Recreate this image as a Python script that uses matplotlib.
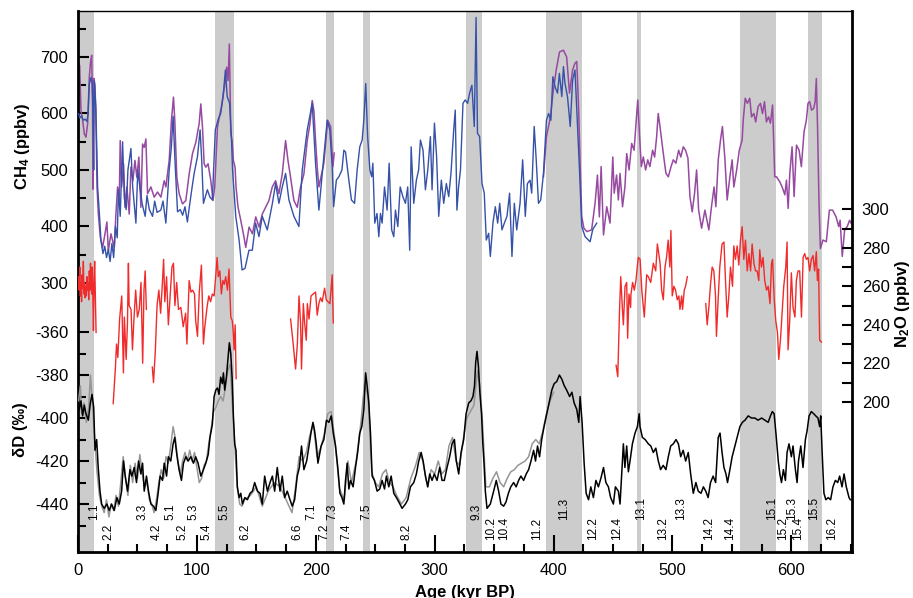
import matplotlib
matplotlib.use('Agg')
import matplotlib.pyplot as plt
from matplotlib.ticker import FixedLocator

plt.rcParams['font.family'] = ['Liberation Sans', 'DejaVu Sans']
plt.rcParams['mathtext.default'] = 'regular'
plt.rcParams['axes.unicode_minus'] = False

# interglacial bands (kyr BP)
bands = [(0, 13.1), (115, 131.5), (208.2, 214.9), (239.9, 246), (326.6, 339.8),
         (393.8, 423.8), (469.9, 473.3), (556.7, 586.9), (614, 626.1)]

# MIS event labels (age, text)
mis_upper = [(13.2, '1.1'), (54.4, '3.3'), (78, '5.1'), (97.1, '5.3'), (123.4, '5.5'),
             (196.2, '7.1'), (213.9, '7.3'), (242.6, '7.5'), (335, '9.3'), (408.9, '11.3'),
             (473.3, '13.1'), (506.9, '13.3'), (583.8, '15.1'), (600.6, '15.3'), (618.8, '15.5')]
mis_lower = [(25.4, '2.2'), (66.3, '4.2'), (87.9, '5.2'), (108.3, '5.4'), (141, '6.2'),
             (184.5, '6.6'), (207.4, '7.2'), (225.8, '7.4'), (276.3, '8.2'), (347.3, '10.2'),
             (358.6, '10.4'), (386.5, '11.2'), (433.5, '12.2'), (453, '12.4'), (491.8, '13.2'),
             (530.9, '14.2'), (548.3, '14.4'), (593, '15.2'), (605.6, '15.4'), (634, '16.2')]

# CH4 new record (purple), two parts
ch4_new_age_a = [0.3, 1.4, 2.5, 3.9, 5.3, 6.7, 8.1, 9.5, 10.5, 11.5, 12.2, 12.6, 13.4, 14.3, 15, 16,
                 17.1, 18.8, 20.7, 22.7, 24.3, 25.5, 27.7, 30.5, 31.9, 33.3, 34.7, 35.5, 36.7,
                 38.3, 39.5, 41.1, 43.1, 44.5, 46.2, 47.9, 49.5, 51.2, 52.9, 54.3, 55.7, 57.1,
                 58.5, 61.3, 64.1, 66.9, 69.7, 72.5, 73.9, 76.7, 78.6, 80.3, 81.4, 83.1, 85.1,
                 87.9, 90.7, 93.5, 96.3, 99.1, 101.9, 103.3, 104.7, 106.1, 107.5, 109.4, 111.7,
                 113.6, 115, 117.3, 118.9, 120.6, 122.3, 124, 125.1, 126.2, 127.3, 128.5, 129.6,
                 130.7, 132.1, 132.9, 134.6, 136.9, 139.1, 141.1, 143.9, 146.7, 149.5, 152.3,
                 155, 157.8, 160.6, 163.4, 166.2, 169, 171.8, 174.6, 176.6, 178.8, 181.6, 184.4,
                 187.2, 190, 192.8, 195.1, 197, 198.4, 199.8, 201.2, 202.6, 206.8, 210, 212.4,
                 214.4, 215.5]
ch4_new_a = [690, 685, 605, 588, 564, 558, 582, 664, 690, 703, 620, 466, 662, 650, 600, 470,
             422, 381, 363, 387, 408, 357, 387, 363, 422, 470, 446, 552, 470,
             511, 434, 470, 422, 505, 481, 517, 487, 523, 434, 546, 540, 555,
             458, 470, 452, 461, 452, 481, 470, 517, 588, 629, 588, 487, 458,
             440, 446, 493, 529, 549, 582, 617, 576, 511, 505, 511, 481,
             446, 470, 576, 594, 611, 635, 658, 682, 658, 723, 564, 552,
             517, 505, 470, 434, 411, 387, 363, 399, 387, 417, 399,
             422, 434, 446, 470, 481, 458, 493, 552, 517, 487, 446, 434,
             470, 493, 552, 582, 623, 605, 552, 505, 470, 512, 588, 577,
             506, 530]
ch4_new_age_b = [391.5, 394, 397.4, 399.5, 402.2, 405, 408.3, 411, 413.4, 416, 418, 419.5, 421,
                 422.4, 423.7, 425.5, 428, 432, 434.9, 436.9, 438.5, 440, 442, 444.7, 447.5,
                 449.8, 451, 453, 454.5, 455.9, 458, 460, 461.5, 463.5, 465.7, 467.7, 469.3,
                 470.8, 472.2, 473.8, 475.5, 477.4, 479.2, 481, 483.3, 485, 486.7, 488, 489.5,
                 492.3, 494.5, 496.5, 498.8, 500.7, 502.9, 505.2, 507, 509.1, 511, 513, 514.7,
                 516.6, 518.6, 520.3, 522, 524.5, 527.3, 530.6, 532.8, 535, 536.5, 538.5, 540.4,
                 542, 544, 546, 548.3, 550.2, 551.6, 554, 556.2, 558.6, 559.5, 561.2, 563, 565,
                 566.5, 568.4, 570, 572, 574, 575.7, 577.4, 579, 580.8, 582.4, 584.2, 586,
                 587.5, 590.3, 592.6, 594.5, 595.9, 597.3, 598.7, 600.6, 602.3, 604.3, 606.5,
                 608.4, 610.7, 612.6, 614, 615.4, 617, 618.8, 620, 621, 622, 623.2, 624.4,
                 626.6, 629.4, 632, 634.7, 637.6, 639.8, 641, 642.8, 644.8, 647, 649, 650.5]
ch4_new_b = [488, 559, 594, 636, 677, 709, 712, 700, 636, 677, 689, 692, 612,
             506, 417, 397, 391, 394, 441, 491, 417, 506, 385, 435, 406,
             523, 459, 491, 447, 494, 435, 470, 529, 500, 547, 535, 582,
             624, 565, 506, 523, 500, 518, 506, 535, 523, 559, 600, 577,
             529, 494, 488, 506, 518, 512, 535, 523, 541, 535, 521, 453,
             426, 459, 500, 429, 397, 429, 394, 435, 470, 435, 518, 553,
             577, 523, 447, 488, 518, 470, 500, 535, 553, 588, 627, 618, 627,
             594, 600, 585, 612, 618, 600, 621, 585, 594, 583, 615, 488,
             488, 479, 468, 456, 482, 432, 494, 541, 453, 544, 535,
             506, 568, 588, 618, 621, 606, 609, 621, 662, 577, 447, 361,
             376, 373, 429, 429, 417, 400, 411, 347, 394, 400, 411, 405]

# CH4 older record (blue)
ch4_old_age = [0.5, 1.5, 3, 4.5, 6, 7.5, 8.5, 9.5, 11, 12, 12.6, 13.2, 13.7, 15, 16.5, 18,
               19.3, 21, 22.5, 24, 25.5, 27, 28.5, 30, 31.5, 33, 34, 35.5, 37.5, 39, 40.5, 42,
               44.5, 46, 48.7, 50.3, 52, 54, 56.5, 58, 60, 62.7, 64.5, 66.5, 69.7, 71.5, 73.9,
               76.7, 78.5, 80, 81.5, 83.7, 86, 88, 90, 92, 94, 96, 97.7, 100.5, 102.7, 104,
               105.5, 108.8, 111, 113, 115.5, 118, 120, 122, 124, 125.5, 127.5, 129, 130,
               132.7, 135.5, 138, 140.5, 143.8, 146.6, 149.4, 152.2, 155, 159.2, 163.5, 166.2,
               169, 171.8, 174.6, 177.4, 181.6, 185.8, 188.6, 192.8, 197, 199.8, 202.6, 206.8,
               209.6, 211.8, 213.8, 215, 217.3, 219.4, 222, 223.6, 225, 227.8, 230, 232.6,
               234.8, 237, 239, 240.4, 242, 243.6, 245.5, 247, 248, 249.6, 251.5, 253, 254.4,
               255.8, 257.8, 260, 261.7, 263.8, 265.6, 267, 269, 271, 273.2, 275.4, 277.3,
               279, 280.2, 282.4, 284.6, 286.5, 288, 290.2, 292.2, 294.2, 296.4, 297.8, 299.8,
               301.6, 303.4, 305.6, 307.6, 309.8, 311.8, 313.7, 316, 317.3, 318.7, 320.1,
               321.7, 323.8, 325.7, 327.7, 329.4, 331.3, 333.3, 334.8, 336, 337.8, 339.8,
               341.7, 343.4, 345.4, 346.8, 349, 351, 353, 354.7, 356.6, 358.6, 360.8, 363, 365,
               367, 369, 371.8, 374, 376.2, 378, 380.2, 381.6, 383.7, 385.4, 387.3, 389.2,
               391.5, 394, 395.8, 397.7, 399.4, 401.3, 403.3, 404.9, 406.9, 408.3, 409.6,
               411.7, 414, 416, 418, 420, 421.8, 423.7, 426.5, 430.7, 433, 436.3]
ch4_old = [600, 592, 596, 588, 590, 586, 600, 652, 664, 652, 600, 500, 658, 611, 470, 422,
           375, 352, 365, 345, 360, 338, 370, 345, 400, 380, 465, 418, 550, 450, 430, 500,
           538, 470, 406, 500, 470, 440, 418, 455, 430, 418, 445, 425, 429, 445, 406,
           500, 540, 595, 520, 426, 430, 420, 435, 408, 440, 470, 494, 524, 571, 520,
           441, 465, 452, 447, 571, 590, 600, 630, 677, 630, 618, 560, 500,
           418, 376, 323, 326, 358, 358, 406, 382, 418, 394, 441, 476,
           441, 470, 494, 447, 418, 400, 500, 571, 618, 512, 429, 524,
           588, 571, 506, 435, 482, 488, 500, 535, 532, 482, 447, 441,
           500, 541, 553, 588, 653, 559, 500, 488, 512, 406, 423, 382, 423,
           406, 470, 429, 512, 394, 382, 429, 400, 470, 453, 441, 470,
           358, 541, 441, 482, 500, 553, 535, 465, 500, 559, 465, 583,
           524, 418, 482, 441, 476, 453, 494, 571, 606, 429, 470,
           500, 618, 624, 618, 636, 650, 577, 770, 565, 559, 476,
           459, 376, 388, 347, 406, 435, 406, 441, 394, 406, 418, 459, 347,
           441, 394, 441, 518, 418, 476, 482, 459, 577, 518, 441, 447,
           494, 588, 600, 588, 665, 647, 636, 671, 630, 683, 653,
           630, 577, 659, 677, 583, 500, 400, 382, 373, 395, 406]

# N2O (red), separate segments
n2o_age_a = [0.4, 1, 1.5, 2, 2.5, 3, 3.5, 4, 4.5, 5, 5.5, 6, 6.5, 7, 7.5, 8, 8.5, 9, 9.5,
             10, 10.5, 11, 11.5, 12, 12.5, 13, 13.5, 14, 14.5, 15.2]
n2o_a = [265, 258, 270, 255, 262, 252, 266, 259, 273, 256, 262, 254, 260, 255, 265, 258,
         262, 253, 268, 258, 272, 262, 256, 270, 255, 237, 262, 273, 258, 236]
n2o_age_b = [29.6, 31.5, 32.4, 33.5, 35, 36.8, 38.2, 39, 40.5, 41.6, 42.4, 43, 44.6, 45.8,
             46.8, 48.5, 50, 51.5, 53, 54.4, 55.5, 56.5, 57.5]
n2o_b = [199, 218, 230, 223, 243, 255, 215, 244, 222, 241, 272, 250, 248, 227,
         240, 258, 244, 248, 262, 220, 258, 268, 248]
n2o_age_c = [62.5, 63.5, 65, 66.5, 68, 69.5, 71, 72, 73, 74.5, 76, 77.5, 79, 80.3, 81.5, 83,
             84.5, 86.5, 88.5, 90.5, 91.6, 93.5, 95, 96.5, 98, 99, 100.5, 102, 103.8, 105.5,
             106.5, 108.5, 110, 111.5, 113, 114.5, 115.8, 117, 118, 119.3, 120.6, 121.8, 123,
             124.2, 125.7, 127, 128.5, 129.8, 130.6, 131.3, 132.2, 133]
n2o_c = [218, 210, 226, 250, 258, 246, 262, 274, 252, 265, 240, 255, 270, 272, 250, 262,
         248, 249, 239, 246, 230, 263, 257, 258, 256, 242, 234, 257, 271, 230,
         238, 249, 255, 252, 256, 255, 265, 275, 265, 268, 256, 263, 261,
         265, 258, 269, 244, 242, 236, 227, 240, 212]
n2o_age_d = [178.8, 181, 183, 184.5, 185.9, 187.2, 188, 189.5, 190.6, 192, 192.9, 194.3, 196,
             197.8, 199.8, 201.2, 202.6, 204, 205.4, 207.4, 208.8, 210.2, 211.9, 213.8, 214.7]
n2o_d = [243, 230, 217, 230, 255, 241, 217, 251, 241, 232, 251, 243, 255,
         256, 257, 245, 251, 254, 252, 259, 253, 252, 251, 266, 241]
n2o_age_e = [452.6, 454, 455.4, 456.5, 457.9, 458.7, 460.1, 461.5, 462.3, 463.4, 464.8, 465.1,
             466.5, 467.9, 469.3, 470.7, 471.3, 472.8, 474.2, 476.3, 478.3, 479.7, 481.7,
             483.9, 485.9, 487.3, 489.6, 490.9, 492.3, 493.7, 495, 496.4, 497.8, 498.7, 499.8,
             501.2, 502.6, 504, 505.4, 506.3, 507.7, 508.5, 509.9, 511, 512.5]
n2o_e = [219, 213, 246, 265, 248, 240, 260, 262, 233, 256, 249, 256,
         262, 258, 263, 272, 275, 274, 258, 244, 266, 265, 262,
         272, 268, 282, 272, 258, 253, 270, 275, 284, 270, 289, 255,
         260, 258, 253, 255, 248, 255, 248, 258, 260, 265]
n2o_age_f = [528, 529.2, 530.6, 532, 533.4, 534.8, 536.2, 537, 538.4, 539.8, 541.7, 543.3,
             544.6, 546, 547.4, 548.8, 550.5, 551.6, 553, 554.4, 555.8, 557.2, 558.6, 560,
             561.4, 562.9, 564.3, 565.7, 567, 568.5, 569.9, 571.2, 572.6, 573.4, 574.8,
             576.2, 577.6, 579.1, 580.5, 582, 583.3, 584.2, 585.6, 586.9, 588.3, 589.4,
             590.8, 592.2, 593.6, 595.3, 596.4, 597.2, 598.6, 600, 601.4, 603, 604.2, 605.6,
             607, 608.5, 609.9, 611.2, 612.6, 614, 615.4, 616.8, 618.2, 619.6, 621, 621.9,
             622.9, 623.8, 625.3]
n2o_f = [251, 240, 249, 261, 270, 268, 255, 234, 253, 270, 282, 283,
         263, 244, 255, 270, 260, 281, 274, 281, 271, 284, 291, 274,
         284, 268, 277, 268, 282, 272, 268, 268, 263, 279, 270,
         275, 263, 258, 260, 251, 272, 274, 253, 242, 236, 222,
         232, 246, 260, 270, 283, 227, 242, 267, 249, 244, 263, 268,
         268, 244, 275, 277, 274, 275, 268, 274, 276, 268, 278, 263,
         269, 232, 231]

# deltaD, EDC3 age scale (black)
dd_age = [1.1, 2.5, 3.9, 5.3, 6.7, 8.7, 10.4, 11.8, 13.2, 14.3, 15.7, 17, 18.5, 19.9, 22, 24.3,
          26.3, 28.2, 30.5, 32.7, 34.7, 36.7, 38.3, 39.7, 41.7, 43.7, 45.3, 47.3, 49.2, 50.9,
          52.9, 54.3, 55.7, 57.6, 59.3, 61.3, 63.5, 65.5, 67.4, 69.1, 71.1, 72.5, 74.5, 76,
          78, 80, 81.4, 83.1, 85, 87, 88.7, 90.7, 92.7, 94.9, 97.1, 99, 101, 103.3, 105.5,
          107.5, 109.5, 111, 113, 114.5, 115.9, 117.3, 118.6, 120, 121.4, 122.3, 123.4,
          124.8, 126.2, 127.3, 128.5, 129.6, 130.7, 131.8, 132.9, 134, 135.5, 136.9, 138.3,
          140.3, 142.5, 144.7, 146.7, 148.6, 150.9, 153.1, 155, 157, 159.3, 161.5, 163.5,
          165.4, 167.6, 169.9, 171.8, 173.8, 176, 178.3, 180.2, 182.2, 184.4, 186.2, 188,
          190, 192.3, 194.3, 196.2, 197.6, 199, 200.4, 201.8, 204.5, 206.8, 209, 211, 213,
          214.7, 216.6, 218.5, 220.3, 222, 223.6, 225, 226.4, 227.8, 229.2, 231.4, 233.4,
          235.2, 237, 238.7, 240.4, 241.9, 243.2, 244.6, 246, 247.4, 249.3, 251.6, 253.8,
          255.8, 257.8, 259.4, 261.4, 263.4, 265.6, 267.8, 269.8, 272.6, 275.4, 277.4,
          279.6, 282.4, 284.6, 286.6, 288.6, 290.3, 292.2, 294.2, 295.8, 297.8, 299.7, 302,
          304.2, 306.2, 308.1, 310.4, 312.6, 314.6, 316.6, 318.2, 320.2, 322.2, 324.4,
          326.4, 328.6, 330.5, 332.2, 333.5, 334.5, 335.6, 336.8, 338, 339.4, 340.5, 341.5,
          342.6, 344, 346.8, 349.6, 351.8, 353.8, 355.7, 358, 360, 362, 364, 366.4, 368.5,
          370.6, 372.5, 374.8, 377, 379, 381, 383.2, 384.8, 386.5, 388.2, 390, 392, 394.3,
          396.6, 398.5, 400.5, 402.7, 404.9, 407, 409, 411, 413.5, 415.4, 417.3, 419.5,
          421.2, 422.3, 424, 425.7, 427.4, 429.4, 431.3, 433.5, 435.6, 437.7, 439.8, 442,
          444, 446.1, 448, 450.3, 452, 454.5, 455.9, 457.3, 458.7, 460, 461.5, 462.9, 464.3,
          466.3, 468.5, 470.5, 472, 472.7, 474.7, 477, 479.7, 481.8, 483.9, 486, 488.1,
          490, 492.2, 494.5, 496.5, 498.5, 500.7, 503, 505, 506.9, 509, 511.1, 513.3,
          515.3, 517.5, 519.7, 521.7, 524, 526, 528, 530, 532, 534.2, 536.3, 538.5, 540,
          541.7, 543.3, 545, 546.3, 548.3, 550.2, 552.5, 554.4, 556.7, 558.8, 561, 563.7,
          566.5, 569.3, 572, 575, 577.7, 580.5, 582.4, 584, 585.5, 587, 589, 590.3, 591.7,
          593.3, 595, 596.4, 598, 600, 601.4, 603.4, 604.8, 606, 607.9, 609.8, 611.8,
          613.2, 614.9, 616.8, 618.8, 620.5, 622.4, 623.8, 624.7, 625.9, 627.4, 629, 631,
          633, 635, 637, 639, 640.6, 642.6, 644.3, 646.2, 648.5, 649.6]
dd = [-396, -392, -399, -394, -398, -401, -393, -389, -395, -415, -410, -423, -434, -440, -442, -440,
      -443, -440, -443, -437, -440, -434, -420, -427, -434, -424, -427, -423, -430, -420,
      -426, -421, -434, -427, -434, -440, -441, -443, -435, -427, -429, -421, -427, -418,
      -420, -412, -409, -417, -424, -429, -421, -418, -420, -418, -421, -418, -421, -427, -424,
      -421, -417, -409, -403, -390, -387, -386, -389, -381, -384, -379, -387,
      -381, -372, -365, -370, -381, -399, -412, -415, -432, -437, -435, -440,
      -437, -438, -435, -434, -430, -434, -435, -440, -427, -434, -430, -427,
      -434, -423, -434, -427, -437, -434, -438, -441, -438, -427, -423, -413,
      -424, -420, -413, -406, -402, -406, -412, -421, -413, -410, -401, -402, -399,
      -407, -413, -423, -435, -437, -440, -429, -421, -433, -429, -432, -423,
      -416, -407, -404, -396, -379, -385, -393, -407, -427, -429, -434, -433,
      -429, -433, -427, -432, -427, -435, -437, -439, -442, -440, -438,
      -432, -430, -426, -420, -416, -420, -427, -432, -426, -429, -426, -429,
      -423, -429, -429, -423, -418, -412, -410, -420, -426, -416, -410,
      -398, -393, -392, -390, -385, -374, -369, -376, -388, -398, -412, -421,
      -434, -442, -440, -434, -429, -434, -440, -441, -439, -435, -432, -430, -432,
      -429, -427, -429, -426, -424, -420, -415, -420, -413, -418, -410, -404, -398,
      -392, -387, -384, -383, -380, -382, -385, -387, -390, -388, -393, -396,
      -402, -390, -402, -421, -435, -438, -432, -437, -429, -432, -428, -423,
      -430, -432, -437, -440, -432, -434, -440, -426, -412, -423, -413, -425, -420,
      -412, -407, -404, -398, -404, -409, -410, -412, -413, -416, -414, -420,
      -424, -422, -424, -418, -413, -412, -410, -412, -418, -415, -420, -416,
      -426, -435, -430, -434, -435, -432, -434, -437, -430, -427, -430, -409, -407,
      -416, -423, -426, -430, -424, -418, -413, -409, -404, -402, -401, -399,
      -400, -400, -401, -400, -401, -402, -399, -397, -398, -407, -420, -426, -430,
      -424, -429, -416, -412, -418, -413, -424, -430, -420, -413, -423, -410,
      -406, -399, -397, -398, -399, -400, -404, -399, -416, -435, -438, -437,
      -438, -432, -429, -430, -427, -432, -426, -432, -437, -438]

# deltaD, older age scale (grey)
dd2_age = [0.5, 2, 3, 5, 7, 9, 10.5, 12, 14, 16, 18, 20, 22, 24, 26, 28, 30, 32, 34, 36, 38,
           40, 42, 44, 46, 48, 50, 52, 54, 56, 58, 60, 62, 64, 66, 68, 70, 72, 74, 76, 78, 80,
           82, 84, 86, 88, 90, 92, 94, 96, 98, 100, 102, 104, 106, 108, 110, 112, 114, 116,
           118, 120, 122, 124, 126, 128, 130, 132, 134, 136, 138, 140, 145, 150, 155, 160,
           165, 170, 175, 180, 183, 186, 189, 192, 195, 198, 201, 204, 207, 210, 213, 216,
           220, 224, 227, 230, 234, 238, 241, 244, 247, 250, 253, 256, 259, 262, 265, 268,
           272, 276, 280, 284, 287, 290, 294, 297, 300, 303, 306, 309, 312, 315, 318, 321,
           324, 327, 330, 333, 336, 338, 340, 343, 346, 349, 352, 355, 358, 361, 364, 367,
           370, 373, 376, 379, 382, 385, 388, 391, 394, 397, 400]
dd2 = [-392, -385, -398, -393, -402, -395, -380, -392, -410, -425, -436, -441, -444, -438, -446,
       -440, -443, -436, -441, -430, -418, -428, -436, -422, -430, -421, -428, -417, -426,
       -432, -430, -438, -440, -444, -438, -430, -424, -428, -418, -421, -413, -404,
       -410, -420, -426, -420, -416, -420, -415, -420, -416, -423, -430, -428, -422, -420,
       -412, -405, -397, -395, -392, -390, -392, -386, -378, -375, -395, -414, -432, -440,
       -441, -438, -436, -432, -441, -434, -430, -432, -438, -444, -432, -418, -420, -416,
       -408, -403, -418, -414, -408, -398, -397, -410, -433, -438, -420, -430, -420, -402,
       -384, -390, -425, -430, -432, -426, -424, -430, -432, -436, -440, -437, -428, -422,
       -416, -420, -432, -424, -426, -420, -426, -424, -413, -409, -420, -422, -410, -400,
       -397, -394, -378, -385, -400, -432, -432, -428, -425, -430, -432, -428, -425, -424,
       -422, -421, -420, -418, -412, -410, -412, -406, -398, -392, -388]

fig = plt.figure(figsize=(9.13, 5.98), dpi=100)
ax = fig.add_axes([78 / 913, 46 / 598, 774 / 913, 541 / 598])
ax_d = ax.twinx()
ax_n = ax.twinx()

for a0, a1 in bands:
    ax.axvspan(a0, a1, color='#cccccc', lw=0, zorder=0)

purple = '#964aa0'
blue = '#3551a8'
red = '#f02b2b'
ax.plot(ch4_new_age_a, ch4_new_a, color=purple, lw=1.1, zorder=2)
ax.plot(ch4_new_age_b, ch4_new_b, color=purple, lw=1.1, zorder=2)
ax.plot(ch4_old_age, ch4_old, color=blue, lw=1.0, zorder=3)

for ages, vals in [(n2o_age_a, n2o_a), (n2o_age_b, n2o_b), (n2o_age_c, n2o_c),
                   (n2o_age_d, n2o_d), (n2o_age_e, n2o_e), (n2o_age_f, n2o_f)]:
    ax_n.plot(ages, vals, color=red, lw=1.0)

ax_d.plot(dd2_age, dd2, color='#969696', lw=1.1)
ax_d.plot(dd_age, dd, color='black', lw=1.1)

for age, txt in mis_upper:
    ax.text(age, 0.059, txt, transform=ax.get_xaxis_transform(), rotation=90,
            ha='center', va='bottom', fontsize=8.5)
for age, txt in mis_lower:
    ax.text(age, 0.022, txt, transform=ax.get_xaxis_transform(), rotation=90,
            ha='center', va='bottom', fontsize=8.5)

ax.set_xlim(0, 651)
ax.set_ylim(-176.1, 781.4)
ax_d.set_ylim(-462.3, -210.7)
ax_n.set_ylim(121.9, 403.1)

ax.xaxis.set_major_locator(FixedLocator([0, 100, 200, 300, 400, 500, 600]))
ax.xaxis.set_minor_locator(FixedLocator([25, 50, 75, 125, 150, 175, 225, 250, 275, 325, 350, 375,
                                         425, 450, 475, 525, 550, 575, 625, 650]))
ax.yaxis.set_major_locator(FixedLocator([300, 400, 500, 600, 700]))
ax.yaxis.set_minor_locator(FixedLocator([350, 450, 550, 650, 750]))
ax_d.yaxis.set_major_locator(FixedLocator([-440, -420, -400, -380, -360]))
ax_d.yaxis.set_minor_locator(FixedLocator([-450, -430, -410, -390, -370]))
ax_n.yaxis.set_major_locator(FixedLocator([200, 220, 240, 260, 280, 300]))
ax_n.yaxis.set_minor_locator(FixedLocator([210, 230, 250, 270, 290]))

ax_d.yaxis.tick_left()
ax.tick_params(axis='x', which='major', direction='in', length=12, width=1.5, labelsize=12, pad=8)
ax.tick_params(axis='x', which='minor', direction='in', length=6, width=1.5)
ax.tick_params(axis='y', which='major', direction='in', length=8, width=1.5, labelsize=12, pad=7,
               right=False)
ax.tick_params(axis='y', which='minor', direction='in', length=6, width=1.5, right=False)
ax_d.tick_params(axis='y', which='major', direction='in', length=8, width=1.5, labelsize=12,
                 pad=7, right=False, labelright=False, left=True, labelleft=True)
ax_d.tick_params(axis='y', which='minor', direction='in', length=6, width=1.5, right=False,
                 left=True)
ax_n.tick_params(axis='y', which='both', direction='in', length=7, width=1.5, labelsize=12, pad=7)

for a in (ax_d, ax_n):
    for s in a.spines.values():
        s.set_visible(False)
ax.spines['left'].set_linewidth(2)
ax.spines['bottom'].set_linewidth(2)
ax.spines['right'].set_linewidth(2)
ax.spines['top'].set_linewidth(1)

fig.text(23 / 913, 1 - 146 / 598, 'CH$_4$ (ppbv)', rotation=90, ha='center', va='center',
         fontsize=12, fontweight='bold')
fig.text(21 / 913, 1 - 430 / 598, 'δD (‰)', rotation=90, ha='center', va='center',
         fontsize=12, fontweight='bold')
fig.text(902 / 913, 1 - 304 / 598, 'N$_2$O (ppbv)', rotation=90, ha='center', va='center',
         fontsize=12, fontweight='bold')
fig.text(465 / 913, 1 - 592 / 598, 'Age (kyr BP)', ha='center', va='center',
         fontsize=12, fontweight='bold')

fig.savefig('out.png', dpi=100)
